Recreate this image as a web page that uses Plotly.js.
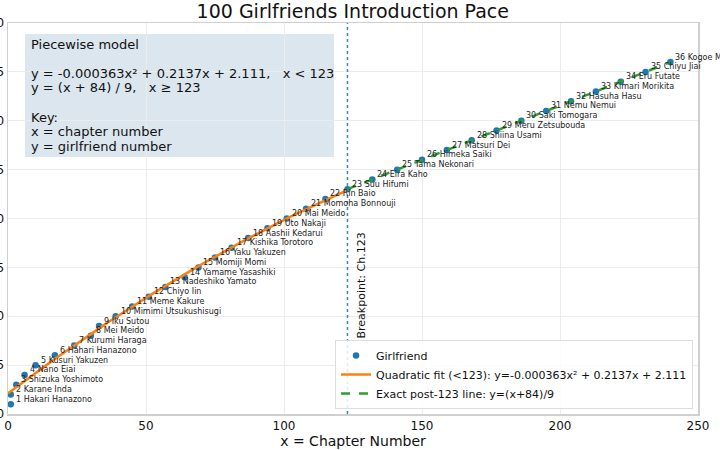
<!DOCTYPE html>
<html>
<head>
<meta charset="utf-8">
<script src="https://cdn.plot.ly/plotly-3.0.1.min.js"></script>
<style>
  html, body { margin: 0; padding: 0; background: #fff; }
  #chart { width: 720px; height: 450px; }
</style>
</head>
<body>
<div id="chart"></div>
<script>
// girlfriend number -> chapter of introduction
var gfNumbers = [];
for (var n = 1; n <= 36; ++n) gfNumbers.push(n);

var gfChapters = [1, 1, 3, 6, 10, 17, 24, 30, 33, 39, 45, 51, 57, 64, 69, 75, 81, 87,
                  94, 101, 108, 115, 123, 132, 141, 150, 159, 168, 177, 186, 195, 204,
                  213, 222, 231, 240];

var gfNames = ["Hakari Hanazono", "Karane Inda", "Shizuka Yoshimoto", "Nano Eiai",
               "Kusuri Yakuzen", "Hahari Hanazono", "Kurumi Haraga", "Mei Meido",
               "Iku Sutou", "Mimimi Utsukushisugi", "Meme Kakure", "Chiyo Iin",
               "Nadeshiko Yamato", "Yamame Yasashiki", "Momiji Momi", "Yaku Yakuzen",
               "Kishika Torotoro", "Aashii Kedarui", "Uto Nakaji", "Mai Meido",
               "Momoha Bonnouji", "Rin Baio", "Suu Hifumi", "Eira Kaho",
               "Tama Nekonari", "Himeka Saiki", "Matsuri Dei", "Shiina Usami",
               "Meru Zetsubouda", "Saki Tomogara", "Nemu Nemui", "Hasuha Hasu",
               "Kimari Morikita", "Eru Futate", "Chiyu Jiai", "Kogoe M"];

// model shown in the chart
var breakpoint = 123;
var quadA = -0.000363, quadB = 0.2137, quadC = 2.111;
var postOffset = 84, postDiv = 9;
var postEnd = 240;

var xTicks = [0, 50, 100, 150, 200, 250];
var yTicks = [0, 5, 10, 15, 20, 25, 30, 35, 40];

var boxLines = ["Piecewise model",
                "y = -0.000363x\u00b2 + 0.2137x + 2.111,   x < 123",
                "y = (x + 84) / 9,   x \u2265 123",
                "Key:",
                "x = chapter number",
                "y = girlfriend number"];
var boxLineY = [44, 73, 88, 117, 131, 146];   // pixel rows inside the box

var FONT = "DejaVu Sans, Liberation Sans, sans-serif";

var fitX = [], fitY = [];
for (var x = 0; x <= breakpoint; ++x) {
    fitX.push(x);
    fitY.push(quadA * x * x + quadB * x + quadC);
}
var postX = [breakpoint, postEnd];
var postY = postX.map(v => (v + postOffset) / postDiv);

var traces = [
    {
        x: gfChapters, y: gfNumbers,
        mode: 'markers', type: 'scatter',
        name: 'Girlfriend',
        marker: { color: '#1f77b4', size: 6.5 }
    },
    {
        x: fitX, y: fitY,
        mode: 'lines', type: 'scatter',
        name: 'Quadratic fit (<123): y=-0.000363x\u00b2 + 0.2137x + 2.111',
        line: { color: '#ff7f0e', width: 2.5 }
    },
    {
        x: postX, y: postY,
        mode: 'lines', type: 'scatter',
        name: 'Exact post-123 line: y=(x+84)/9',
        line: { color: '#2ca02c', width: 2.5, dash: 'dash' }
    }
];

// plot area in pixels: x 8..698, y 23..414
function py(p) { return (414 - p) / 391; }

var annotations = gfNumbers.map((n, i) => ({
    x: gfChapters[i], y: n, xref: 'x', yref: 'y',
    text: n + ' ' + gfNames[i],
    showarrow: false, xanchor: 'left', yanchor: 'middle',
    xshift: 3, yshift: 5,
    font: { family: FONT, size: 8, color: '#222' }
}));

boxLines.forEach((t, i) => {
    annotations.push({
        x: 0.0305, y: py(boxLineY[i]), xref: 'paper', yref: 'paper',
        text: t, showarrow: false, xanchor: 'left', yanchor: 'middle',
        font: { family: FONT, size: 13, color: '#111' }
    });
});

annotations.push({
    x: breakpoint, y: py(285), xref: 'x', yref: 'paper',
    text: 'Breakpoint: Ch.123', textangle: -90, showarrow: false,
    xanchor: 'center', yanchor: 'middle',
    xshift: 14, font: { family: FONT, size: 11, color: '#111' }
});

var layout = {
    width: 720, height: 450,
    margin: { l: 8, r: 22, t: 23, b: 36 },
    paper_bgcolor: '#fff', plot_bgcolor: '#fff',
    font: { family: FONT, color: '#111' },
    title: {
        text: '100 Girlfriends Introduction Pace',
        font: { family: FONT, size: 19, color: '#111' },
        x: 0.49, xanchor: 'center', y: 0.975, yanchor: 'middle'
    },
    xaxis: {
        range: [0, 250], tickvals: xTicks, ticks: '',
        showgrid: true, gridcolor: '#ececec', zeroline: false,
        showline: true, mirror: true, linecolor: '#cfcfcf', linewidth: 1.5,
        tickfont: { family: FONT, size: 12, color: '#111' },
        title: { text: 'x = Chapter Number', font: { family: FONT, size: 14, color: '#111' }, standoff: 0 }
    },
    yaxis: {
        range: [0, 40], tickvals: yTicks, ticks: '',
        showgrid: true, gridcolor: '#ececec', zeroline: false,
        showline: true, mirror: true, linecolor: '#cfcfcf', linewidth: 1.5,
        tickfont: { family: FONT, size: 12, color: '#111' },
        automargin: false
    },
    legend: {
        x: 0.9928, y: 0.0128, xanchor: 'right', yanchor: 'bottom',
        bgcolor: 'rgba(255,255,255,0.85)', bordercolor: '#dddddd', borderwidth: 1,
        font: { family: FONT, size: 11, color: '#111' },
        tracegroupgap: 0
    },
    shapes: [
        {
            type: 'rect', xref: 'paper', yref: 'paper',
            x0: (25 - 8) / 690, x1: (334 - 8) / 690, y0: py(157), y1: py(34),
            fillcolor: '#dbe6ef', line: { width: 0 }, layer: 'below'
        },
        {
            type: 'line', xref: 'x', yref: 'paper',
            x0: breakpoint, x1: breakpoint, y0: 0, y1: 1,
            line: { color: '#3a88b8', width: 1.5, dash: 'dot' }
        }
    ],
    annotations: annotations,
    showlegend: true
};

Plotly.newPlot('chart', traces, layout, { displayModeBar: false, staticPlot: true });
</script>
</body>
</html>
